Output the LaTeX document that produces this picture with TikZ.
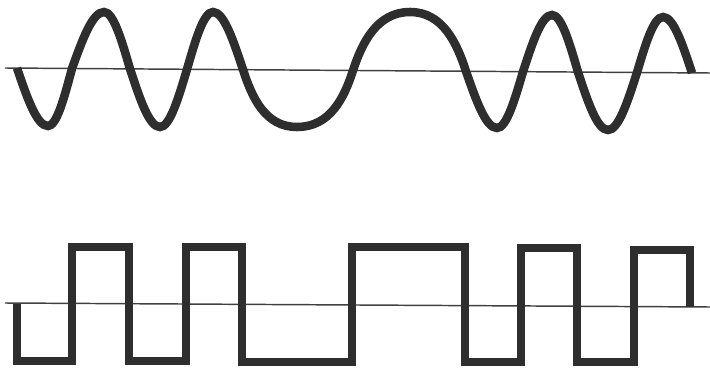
\documentclass[tikz,border=0pt]{standalone}
\begin{document}
\begin{tikzpicture}[x=0.75pt,y=-0.75pt,
  axisline/.style={draw=black!75,line width=1.1pt},
  wave/.style={draw=black!82,line width=6.4pt,line cap=butt},
  pulse/.style={draw=black!82,line width=5.8pt,line join=miter}]
\useasboundingbox (0,0) rectangle (710,378);
% top axis
\draw[axisline] (5,68) -- (710,73);
% FSK sine wave
\draw[wave] (17,68.1) sin (48,126) cos (72,68.5) sin (104,12) cos (130,68.9)
  sin (160,127) cos (187,69.3) sin (213,12) cos (243,69.7)
  .. controls (252,97.4) and (265,127) .. (297,127)
  .. controls (330,127) and (344,98.2) .. (353,70.5)
  .. controls (362,42.8) and (377,12) .. (410,12)
  .. controls (443,12) and (457,43.6) .. (466,71.3)
  sin (497,128) cos (523,71.7) sin (552,15) cos (578,72.1)
  sin (608,130) cos (637,72.5) sin (663,17) cos (692,72.9);
% bottom axis
\draw[axisline] (5,303) -- (710,307);
% square wave
\draw[pulse] (17,304) -- (17,361) -- (72,361) -- (72,247) -- (129,247) -- (129,361)
  -- (186,361) -- (186,247) -- (242,247) -- (242,362) -- (352,362) -- (352,247)
  -- (465,247) -- (465,362) -- (521,362) -- (521,248) -- (577,248) -- (577,362)
  -- (634,362) -- (634,250) -- (690,250) -- (690,306.5);
\end{tikzpicture}
\end{document}
